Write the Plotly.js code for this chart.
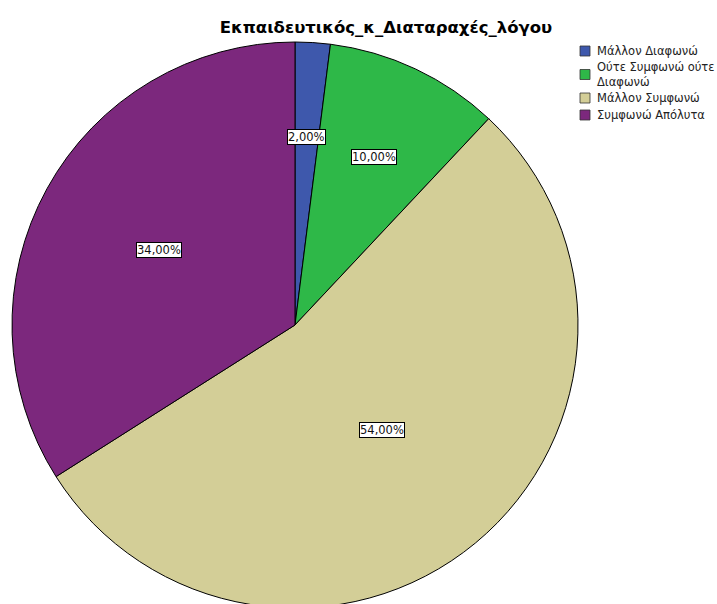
<!DOCTYPE html>
<html>
<head>
<meta charset="utf-8">
<script src="https://cdn.plot.ly/plotly-3.0.1.min.js"></script>
<style>html,body{margin:0;padding:0;overflow:hidden;background:#fff}</style>
</head>
<body>
<div id="chart" style="width:717px;height:612px"></div>
<script>
const categories = ["Μάλλον Διαφωνώ", "Ούτε Συμφωνώ ούτε<br>Διαφωνώ", "Μάλλον Συμφωνώ", "Συμφωνώ Απόλυτα"];
const percents = [2, 10, 54, 34];
const colors = ["#3e58ac", "#2eb848", "#d3ce97", "#7c287d"];

const W = 717, H = 612;
const cx = 295, cy = 325, R = 283;
const FONT = 'DejaVu Sans, Verdana, sans-serif';

const total = percents.reduce((a, b) => a + b, 0);
let cum = 0;
const annotations = percents.map((v) => {
  const frac = v / total;
  const mid = (cum + v / 2) / total;
  cum += v;
  const ang = mid * 2 * Math.PI;
  const half = frac * Math.PI;
  const centroid = (2 / 3) * Math.sin(half) / half;
  const f = Math.max(centroid, 0.48);
  const px = cx + f * R * Math.sin(ang);
  const py = cy - f * R * Math.cos(ang);
  return {
    x: px / W, y: 1 - py / H, xref: 'paper', yref: 'paper',
    xanchor: 'center', yanchor: 'middle',
    text: v.toFixed(2).replace('.', ',') + '%',
    showarrow: false,
    font: {family: FONT, size: 11.5, color: '#111'},
    bgcolor: '#ffffff', bordercolor: '#000000', borderwidth: 1, borderpad: 0
  };
});

// manual legend (SPSS-style, compact)
const shapes = [];
let ly = 51;
categories.forEach((c, i) => {
  const lines = c.split('<br>').length;
  if (i > 0) {
    const prevLines = categories[i - 1].split('<br>').length;
    ly += 17 + 6.5 * (prevLines - 1) + 6.5 * (lines - 1);
  }
  shapes.push({
    type: 'rect', xref: 'paper', yref: 'paper',
    x0: 580 / W, x1: 590 / W, y0: 1 - (ly + 5) / H, y1: 1 - (ly - 5) / H,
    fillcolor: colors[i], line: {color: '#333', width: 0.8}
  });
  annotations.push({
    x: 595 / W, y: 1 - ly / H, xref: 'paper', yref: 'paper',
    xanchor: 'left', yanchor: 'middle', align: 'left',
    text: c, showarrow: false,
    font: {family: FONT, size: 11.5, color: '#222'}
  });
});

const trace = {
  type: 'pie',
  labels: categories,
  values: percents,
  sort: false,
  direction: 'clockwise',
  rotation: 0,
  textinfo: 'none',
  hoverinfo: 'none',
  marker: {colors: colors, line: {color: '#000000', width: 1}},
  domain: {x: [(cx - R) / W, (cx + R) / W], y: [1 - (cy + R) / H, 1 - (cy - R) / H]}
};

const layout = {
  width: W, height: H,
  margin: {l: 0, r: 0, t: 0, b: 0},
  paper_bgcolor: '#ffffff',
  showlegend: false,
  title: {
    text: '<b>Εκπαιδευτικός_κ_Διαταραχές_λόγου</b>',
    x: 386 / W, xanchor: 'center', xref: 'paper',
    y: 1 - 27 / H, yanchor: 'middle', yref: 'paper',
    font: {family: FONT, size: 16.5, color: '#000'}
  },
  shapes: shapes,
  annotations: annotations
};

Plotly.newPlot('chart', [trace], layout, {displayModeBar: false, staticPlot: true});
</script>
</body>
</html>
